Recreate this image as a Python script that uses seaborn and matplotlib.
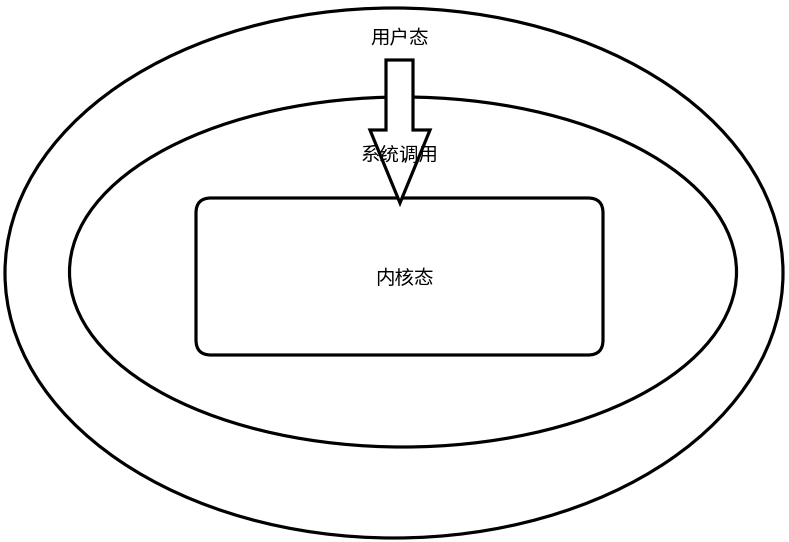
import matplotlib
matplotlib.use("Agg")
import matplotlib.pyplot as plt
import seaborn as sns
from matplotlib.patches import Ellipse, FancyBboxPatch, Polygon

sns.set_theme(style="white")
plt.rcParams['font.family'] = ['Noto Sans CJK SC', 'DejaVu Sans']

labels = ["用户态", "系统调用", "内核态"]
label_x = [400, 400, 404]
label_y = [39, 155, 278]

fig = plt.figure(figsize=(7.89, 5.42), dpi=100)
ax = fig.add_axes([0, 0, 1, 1])
ax.set_xlim(0, 789)
ax.set_ylim(542, 0)
ax.axis("off")
lw = 2.3
ax.add_patch(Ellipse((394, 273), 778, 530, fill=False, lw=lw, color="black"))
ax.add_patch(Ellipse((403, 272), 667, 350, fill=False, lw=lw, color="black"))
ax.add_patch(FancyBboxPatch((211, 213), 377, 127, boxstyle="round,pad=15",
                            fill=False, lw=lw, color="black"))
arrow = [(386, 60), (413, 60), (413, 130), (430, 130), (400, 203),
         (370, 130), (386, 130)]
ax.add_patch(Polygon(arrow, closed=True, facecolor="white", edgecolor="black", lw=lw))
for t, x, y in zip(labels, label_x, label_y):
    ax.text(x, y, t, ha="center", va="center", fontsize=14, color="black", zorder=5)
fig.savefig("out.png", dpi=100)
